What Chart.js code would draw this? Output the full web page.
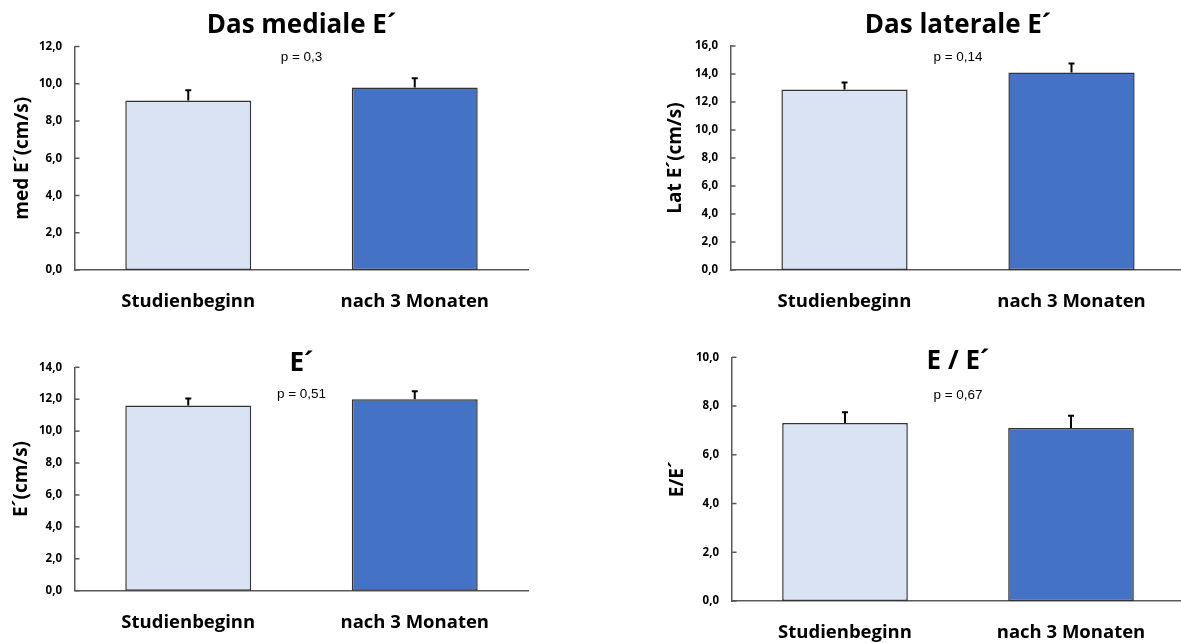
<!DOCTYPE html>
<html lang="de">
<head>
  <meta charset="UTF-8" />
  <title>E´ – Studienbeginn vs. nach 3 Monaten</title>
  <script src="https://cdn.jsdelivr.net/npm/chart.js"></script>
  <style>
    * { margin: 0; padding: 0; }
    html, body { width: 1181px; height: 643px; overflow: hidden; background: #fff; }
    #board { position: relative; width: 1181px; height: 643px; }
    #board canvas { position: absolute; }
  </style>
</head>
<body>
  <div id="board">
    <canvas id="medial"  width="590" height="320" style="left:0;top:0"></canvas>
    <canvas id="lateral" width="600" height="320" style="left:590px;top:0"></canvas>
    <canvas id="eprime"  width="590" height="323" style="left:0;top:320px"></canvas>
    <canvas id="ratio"   width="600" height="323" style="left:590px;top:320px"></canvas>
  </div>

  <script>
    // data (mean + one-sided error bar)
    const categories = ['Studienbeginn', 'nach 3 Monaten'];

    const medialMean  = [9.1, 9.8];
    const medialErr   = [0.55, 0.5];
    const medialTicks = [0, 2, 4, 6, 8, 10, 12];

    const lateralMean  = [12.9, 14.1];
    const lateralErr   = [0.5, 0.65];
    const lateralTicks = [0, 2, 4, 6, 8, 10, 12, 14, 16];

    const ePrimeMean  = [11.6, 12.0];
    const ePrimeErr   = [0.45, 0.5];
    const ePrimeTicks = [0, 2, 4, 6, 8, 10, 12, 14];

    const ratioMean  = [7.3, 7.1];
    const ratioErr   = [0.45, 0.5];
    const ratioTicks = [0, 2, 4, 6, 8, 10];

    const titles  = ['Das mediale E´', 'Das laterale E´', 'E´', 'E / E´'];
    const yTitles = ['med E´(cm/s)', 'Lat E´(cm/s)', 'E´(cm/s)', 'E/E´'];
    const pTexts  = ['p = 0,3', 'p = 0,14', 'p = 0,51', 'p = 0,67'];

    const barColors = ['#DAE3F3', '#4472C4'];
    const fmt = v => v.toFixed(1).replace('.', ',');

    // error bars: stem from bar top + small cap
    const errorBars = {
      id: 'errorBars',
      afterDatasetsDraw(chart, args, opts) {
        const { ctx } = chart;
        const y = chart.scales.y;
        const values = chart.data.datasets[0].data;
        ctx.save();
        ctx.strokeStyle = '#000';
        ctx.lineWidth = 2;
        chart.getDatasetMeta(0).data.forEach((bar, i) => {
          const top = y.getPixelForValue(values[i] + opts.err[i]);
          ctx.beginPath();
          ctx.moveTo(bar.x, bar.y);
          ctx.lineTo(bar.x, top);
          ctx.moveTo(bar.x - 3, top);
          ctx.lineTo(bar.x + 3, top);
          ctx.stroke();
        });
        ctx.restore();
      }
    };

    // inward tick marks on y axis, title and p value
    const decor = {
      id: 'decor',
      afterDraw(chart, args, opts) {
        const { ctx, chartArea } = chart;
        const y = chart.scales.y;
        ctx.save();
        ctx.strokeStyle = '#595959';
        ctx.lineWidth = 1.5;
        y.ticks.forEach((t, i) => {
          const py = y.getPixelForTick(i);
          ctx.beginPath();
          ctx.moveTo(chartArea.left, py);
          ctx.lineTo(chartArea.left + 4.5, py);
          ctx.stroke();
        });
        const cx = (chartArea.left + chartArea.right) / 2;
        ctx.fillStyle = '#000';
        ctx.textAlign = 'center';
        ctx.textBaseline = 'alphabetic';
        ctx.font = 'bold 26px "Open Sans"';
        ctx.fillText(opts.title, cx, opts.titleY);
        ctx.textBaseline = 'middle';
        ctx.font = '13.5px "Liberation Sans"';
        ctx.fillText(opts.p, cx, opts.pY);
        ctx.restore();
      }
    };

    function makeChart(id, means, err, ticks, idx, box) {
      new Chart(document.getElementById(id), {
        type: 'bar',
        data: {
          labels: categories,
          datasets: [{
            data: means,
            backgroundColor: barColors,
            borderColor: '#333',
            borderWidth: 1.5,
            borderSkipped: false,
            barPercentage: 1,
            categoryPercentage: 0.556
          }]
        },
        options: {
          responsive: false,
          animation: false,
          layout: { padding: { top: box.top, right: box.right, left: 0, bottom: 0 } },
          plugins: {
            legend: { display: false },
            tooltip: { enabled: false },
            errorBars: { err },
            decor: { title: titles[idx], titleY: box.titleY, p: pTexts[idx], pY: box.pY }
          },
          scales: {
            x: {
              grid: { display: false, drawTicks: false },
              border: { display: true, color: '#595959', width: 1.5 },
              ticks: { color: '#000', padding: 21, font: { family: 'Open Sans', weight: 'bold', size: 18.5 } },
              afterFit(s) { s.height = box.xh; s.paddingLeft = 0; s.paddingRight = 0; }
            },
            y: {
              min: ticks[0],
              max: ticks[ticks.length - 1],
              grid: { display: false, drawTicks: false },
              border: { display: true, color: '#595959', width: 1.5 },
              ticks: {
                stepSize: ticks[1] - ticks[0],
                color: '#000',
                padding: 13,
                font: { family: 'Open Sans', weight: 'bold', size: 11.5 },
                callback: v => fmt(v)
              },
              title: {
                display: true,
                text: yTitles[idx],
                color: '#000',
                padding: { top: box.yt, bottom: 0 },
                font: { family: 'Open Sans', weight: 'bold', size: 19 }
              },
              afterFit(s) { s.width = box.yw; s.paddingTop = 0; s.paddingBottom = 0; }
            }
          }
        },
        plugins: [errorBars, decor]
      });
    }

    makeChart('medial',  medialMean,  medialErr,  medialTicks,  0, { top: 46.5, right: 62, xh: 50,   yw: 75,  yt: 11.3, titleY: 32.7, pY: 57 });
    makeChart('lateral', lateralMean, lateralErr, lateralTicks, 1, { top: 46,   right: 5,  xh: 50,   yw: 141, yt: 74.6, titleY: 32.7, pY: 57 });
    makeChart('eprime',  ePrimeMean,  ePrimeErr,  ePrimeTicks,  2, { top: 47.3, right: 62, xh: 52.3, yw: 75,  yt: 10.3, titleY: 51,   pY: 74 });
    makeChart('ratio',   ratioMean,   ratioErr,   ratioTicks,   3, { top: 37.3, right: 6,  xh: 42,   yw: 142, yt: 76.6, titleY: 49.3, pY: 75 });
  </script>
</body>
</html>
